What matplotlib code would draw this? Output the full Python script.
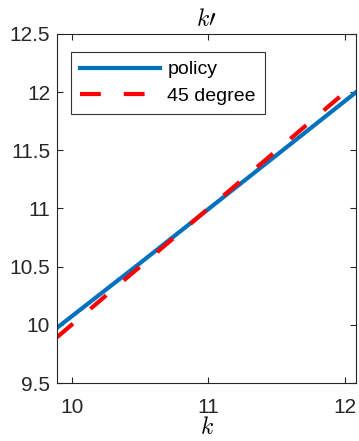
import matplotlib
matplotlib.use("Agg")
import matplotlib.pyplot as plt

# --- data --------------------------------------------------------------
k_grid    = [9.894, 10.5, 11.0, 11.5, 12.08]
policy    = [9.975, 10.53, 10.995, 11.46, 12.0]
degree45  = [9.894, 10.5, 11.0, 11.5, 12.08]

y_ticks   = [9.5, 10, 10.5, 11, 11.5, 12, 12.5]
y_labels  = ["9.5", "10", "10.5", "11", "11.5", "12", "12.5"]
x_ticks   = [10, 11, 12]
x_labels  = ["10", "11", "12"]

plt.rcParams["font.family"] = ["Liberation Sans", "DejaVu Sans"]
plt.rcParams["mathtext.fontset"] = "cm"

fig = plt.figure(figsize=(3.59, 4.41), dpi=100)
ax = fig.add_axes([0.159, 0.1315, 0.833, 0.7915])

ax.plot(k_grid, policy, color="#0072BD", lw=3.0, label="policy")
ax.plot(k_grid, degree45, color="#FF0000", lw=3.0, ls=(0, (5, 5.5)),
        label="45 degree")

ax.set_xlim(9.894, 12.08)
ax.set_ylim(9.5, 12.5)
ax.set_xticks(x_ticks, x_labels)
ax.set_yticks(y_ticks, y_labels)

ax.tick_params(direction="in", length=4, width=0.8, colors="#262626",
               labelsize=15, top=True, right=True, pad=5)
ax.tick_params(axis="x", pad=11)
for s in ax.spines.values():
    s.set_color("#262626")
    s.set_linewidth(0.8)

ax.set_xlabel("$k$", fontsize=17, labelpad=0)
ax.set_title(r"$k\prime$", fontsize=17, pad=6)

# legend box placed where it sits in the reference
leg = ax.legend(loc="upper left", bbox_to_anchor=(0.047, 0.948),
                borderaxespad=0, fontsize=14, handlelength=4.1,
                frameon=True, fancybox=False, edgecolor="black",
                borderpad=0.45, labelspacing=0.45, handletextpad=0.4)
leg.get_frame().set_linewidth(0.8)

fig.savefig("out.png", dpi=100)
